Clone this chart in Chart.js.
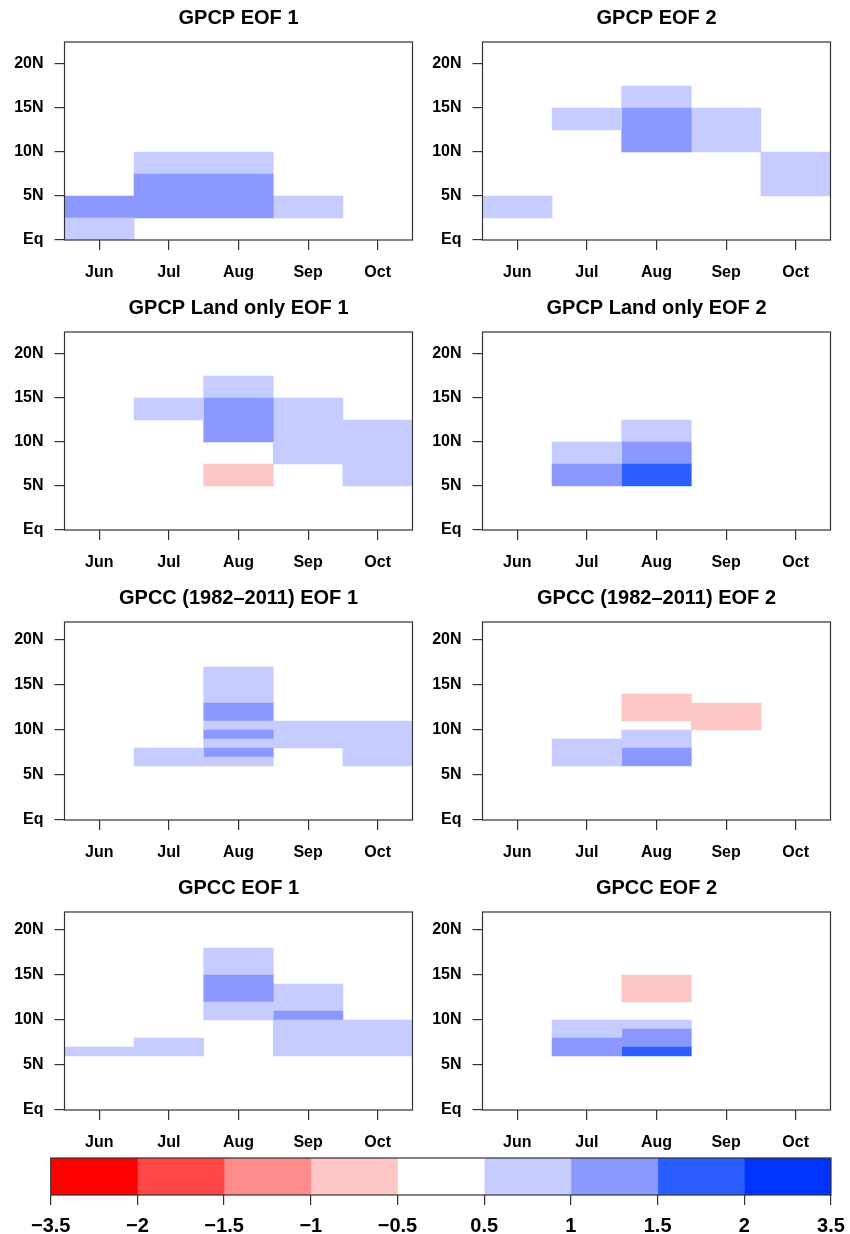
<!DOCTYPE html>
<html>
<head>
<meta charset="utf-8">
<script src="https://cdn.jsdelivr.net/npm/chart.js@4.4.1/dist/chart.umd.min.js"></script>
<style>
  html, body { margin: 0; padding: 0; background: #fff; }
  #wrap { position: relative; width: 850px; height: 1234px; overflow: hidden; }
  #wrap canvas { position: absolute; }
</style>
</head>
<body>
<div id="wrap"></div>
<script>
// x categories and latitude ticks
const months = ['Jun', 'Jul', 'Aug', 'Sep', 'Oct'];
const latTicks = [0, 5, 10, 15, 20];
const latLabels = ['Eq', '5N', '10N', '15N', '20N'];

// colour levels of the EOF loading
const levelBreaks = [-3.5, -2, -1.5, -1, -0.5, 0.5, 1, 1.5, 2, 3.5];
const levelLabels = ['\u22123.5', '\u22122', '\u22121.5', '\u22121', '\u22120.5', '0.5', '1', '1.5', '2', '3.5'];
const levelColors = ['#ff0000', '#ff4646', '#ff8c8c', '#ffc6c6', '#ffffff',
                     '#c6ccff', '#8a98ff', '#2a5eff', '#0033ff'];

// cells: [month index, south edge, north edge, loading]
const gpcpEof1 = [
    [0, 0, 2.5, 0.8], [0, 2.5, 5, 1.2],
    [1, 2.5, 7.5, 1.3], [1, 7.5, 10, 0.8],
    [2, 2.5, 7.5, 1.3], [2, 7.5, 10, 0.8],
    [3, 2.5, 5, 0.7]
];
const gpcpEof2 = [
    [0, 2.5, 5, 0.7],
    [1, 12.5, 15, 0.8],
    [2, 10, 15, 1.2], [2, 15, 17.5, 0.7],
    [3, 10, 15, 0.8],
    [4, 5, 10, 0.7]
];
const gpcpLandEof1 = [
    [1, 12.5, 15, 0.7],
    [2, 5, 7.5, -0.7], [2, 10, 15, 1.2], [2, 15, 17.5, 0.8],
    [3, 7.5, 15, 0.8],
    [4, 5, 12.5, 0.7]
];
const gpcpLandEof2 = [
    [1, 5, 7.5, 1.2], [1, 7.5, 10, 0.8],
    [2, 5, 7.5, 1.7], [2, 7.5, 10, 1.2], [2, 10, 12.5, 0.7]
];
const gpcc8211Eof1 = [
    [1, 6, 8, 0.7],
    [2, 6, 7, 0.9], [2, 7, 8, 1.1], [2, 8, 9, 0.9], [2, 9, 10, 1.1],
    [2, 10, 11, 0.9], [2, 11, 13, 1.2], [2, 13, 17, 0.8],
    [3, 8, 11, 0.8],
    [4, 6, 11, 0.7]
];
const gpcc8211Eof2 = [
    [1, 6, 9, 0.7],
    [2, 6, 8, 1.2], [2, 8, 10, 0.8], [2, 11, 14, -0.8],
    [3, 10, 13, -0.7]
];
const gpccEof1 = [
    [0, 6, 7, 0.6],
    [1, 6, 8, 0.7],
    [2, 10, 12, 0.9], [2, 12, 15, 1.2], [2, 15, 18, 0.8],
    [3, 6, 10, 0.8], [3, 10, 11, 1.1], [3, 11, 14, 0.7],
    [4, 6, 10, 0.7]
];
const gpccEof2 = [
    [1, 6, 8, 1.2], [1, 8, 10, 0.8],
    [2, 6, 7, 1.6], [2, 7, 9, 1.2], [2, 9, 10, 0.8], [2, 12, 15, -0.7]
];

const FONT = "'Liberation Sans', Arial, Helvetica, sans-serif";
const INK = '#333';

function colorFor(v) {
    for (let i = 0; i < levelColors.length; i++) {
        if (v >= levelBreaks[i] && v < levelBreaks[i + 1]) return levelColors[i];
    }
    return levelColors[levelColors.length - 1];
}

// draws the R style box round the plot region
const boxPlugin = {
    id: 'box',
    afterDatasetsDraw(chart) {
        const { ctx, chartArea: a } = chart;
        ctx.save();
        ctx.strokeStyle = INK;
        ctx.lineWidth = 1.2;
        ctx.strokeRect(a.left, a.top, a.right - a.left, a.bottom - a.top);
        ctx.restore();
    }
};

function addCanvas(left, top, width, height) {
    const c = document.createElement('canvas');
    c.width = width;
    c.height = height;
    c.style.left = left + 'px';
    c.style.top = top + 'px';
    document.getElementById('wrap').appendChild(c);
    return c;
}

function panel(title, cells, latMax, left, top, width) {
    const canvas = addCanvas(left, top, width, 290);
    const datasets = cells.map(cell => ({
        data: months.map((m, i) => i === cell[0] ? [cell[1], cell[2]] : null),
        backgroundColor: colorFor(cell[3]),
        borderWidth: 0,
        grouped: false,
        barPercentage: 1,
        categoryPercentage: 1
    }));
    new Chart(canvas, {
        type: 'bar',
        data: { labels: months, datasets },
        options: {
            responsive: false,
            animation: false,
            devicePixelRatio: 1,
            layout: { padding: { top: 6, right: width - 412.5, left: 0, bottom: 0 } },
            plugins: {
                legend: { display: false },
                tooltip: { enabled: false },
                title: {
                    display: true, text: title, fullSize: false, color: '#000',
                    font: { family: FONT, size: 20, weight: 'bold' },
                    padding: { top: 0, bottom: 12 }
                }
            },
            scales: {
                x: {
                    offset: true,
                    afterFit: s => { s.height = 50; },
                    border: { display: false },
                    grid: { offset: false, drawOnChartArea: false, tickLength: 10, color: INK, lineWidth: 1.2 },
                    ticks: { color: '#000', padding: 13, font: { family: FONT, size: 16, weight: 'bold' } }
                },
                y: {
                    min: 0, max: latMax,
                    afterFit: s => { s.width = 64.5; },
                    afterBuildTicks: s => { s.ticks = latTicks.map(v => ({ value: v })); },
                    border: { display: false },
                    grid: { drawOnChartArea: false, tickLength: 10, color: INK, lineWidth: 1.2 },
                    ticks: {
                        color: '#000', padding: 11, autoSkip: false,
                        font: { family: FONT, size: 16, weight: 'bold' },
                        callback: v => latLabels[latTicks.indexOf(v)]
                    }
                }
            }
        },
        plugins: [boxPlugin]
    });
}

panel('GPCP EOF 1', gpcpEof1, 22.5, 0, 0, 425);
panel('GPCP EOF 2', gpcpEof2, 22.5, 418, 0, 432);
panel('GPCP Land only EOF 1', gpcpLandEof1, 22.5, 0, 290, 425);
panel('GPCP Land only EOF 2', gpcpLandEof2, 22.5, 418, 290, 432);
panel('GPCC (1982\u20132011) EOF 1', gpcc8211Eof1, 22, 0, 580, 425);
panel('GPCC (1982\u20132011) EOF 2', gpcc8211Eof2, 22, 418, 580, 432);
panel('GPCC EOF 1', gpccEof1, 22, 0, 870, 425);
panel('GPCC EOF 2', gpccEof2, 22, 418, 870, 432);

// --- COLOUR BAR ---
const barCanvas = addCanvas(0, 1140, 850, 94);
new Chart(barCanvas, {
    type: 'bar',
    data: {
        labels: [''],
        datasets: levelColors.map((col, i) => ({
            data: [[i, i + 1]],
            backgroundColor: col,
            borderWidth: 0,
            grouped: false,
            barPercentage: 1,
            categoryPercentage: 1
        }))
    },
    options: {
        indexAxis: 'y',
        responsive: false,
        animation: false,
        devicePixelRatio: 1,
        layout: { padding: { top: 18, left: 50.7, right: 19, bottom: 0 } },
        plugins: { legend: { display: false }, tooltip: { enabled: false } },
        scales: {
            y: { display: false },
            x: {
                min: 0, max: levelColors.length,
                afterFit: s => { s.height = 39; s.paddingRight = 0; s.paddingLeft = 0; },
                afterBuildTicks: s => { s.ticks = levelBreaks.map((b, i) => ({ value: i })); },
                border: { display: false },
                grid: { drawOnChartArea: false, tickLength: 10, color: INK, lineWidth: 1.2 },
                ticks: {
                    color: '#000', padding: 9, autoSkip: false, maxRotation: 0,
                    font: { family: FONT, size: 20, weight: 'bold' },
                    callback: (v, i) => levelLabels[i]
                }
            }
        }
    },
    plugins: [boxPlugin]
});
</script>
</body>
</html>
